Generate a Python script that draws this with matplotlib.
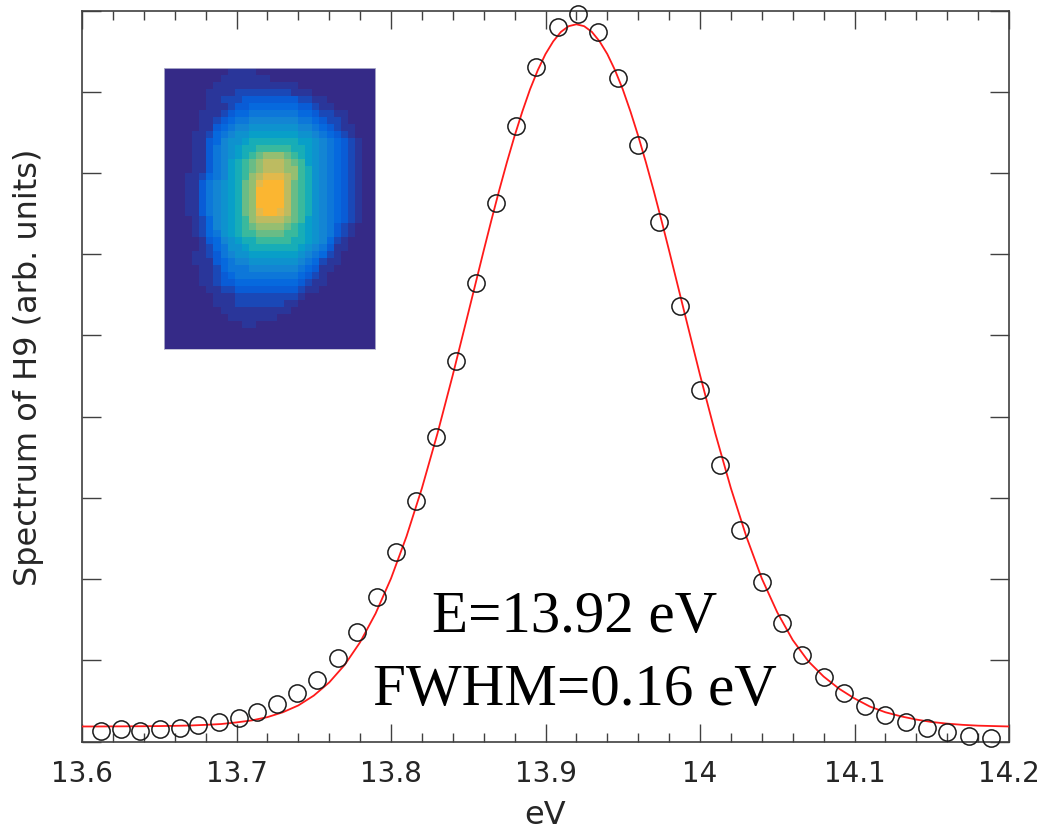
# -*- coding: utf-8 -*-
import numpy as np
import matplotlib
matplotlib.use('Agg')
import matplotlib.pyplot as plt
from matplotlib.colors import LinearSegmentedColormap

# measured spectrum
energy = [13.6123, 13.6252, 13.6375, 13.6505, 13.6634, 13.6751, 13.6887, 13.7016, 13.7133,
          13.7262, 13.7392, 13.7521, 13.7657, 13.7780, 13.7909, 13.8032, 13.8162, 13.8291,
          13.8421, 13.8550, 13.8680, 13.8809, 13.8939, 13.9081, 13.9210, 13.9340, 13.9469,
          13.9599, 13.9735, 13.9871, 14.0000, 14.0129, 14.0259, 14.0401, 14.0531, 14.0660,
          14.0803, 14.0932, 14.1068, 14.1197, 14.1333, 14.1469, 14.1599, 14.1741, 14.1884]
signal = [0.135, 0.148, 0.135, 0.160, 0.172, 0.197, 0.246, 0.295, 0.369,
          0.456, 0.591, 0.763, 1.034, 1.354, 1.773, 2.327, 2.967, 3.755,
          4.679, 5.639, 6.636, 7.584, 8.310, 8.803, 8.951, 8.741, 8.163,
          7.350, 6.390, 5.356, 4.322, 3.410, 2.610, 1.958, 1.453, 1.071,
          0.788, 0.591, 0.443, 0.332, 0.234, 0.172, 0.123, 0.062, 0.037]

# fitted curve, closer together around the peak
fit_energy = [13.60, 13.61, 13.62, 13.63, 13.64, 13.65, 13.66, 13.67, 13.68, 13.69, 13.70,
              13.71, 13.72, 13.73, 13.74, 13.75, 13.76, 13.77, 13.78, 13.79, 13.80,
              13.81, 13.82, 13.83, 13.84, 13.85, 13.86, 13.865, 13.87, 13.875, 13.88, 13.885,
              13.89, 13.895, 13.90, 13.905, 13.91, 13.915, 13.92, 13.925, 13.93, 13.935,
              13.94, 13.945, 13.95, 13.955, 13.96, 13.965, 13.97, 13.975, 13.98, 13.99, 14.00,
              14.01, 14.02, 14.03, 14.04, 14.05, 14.06, 14.07, 14.08, 14.09, 14.10,
              14.11, 14.12, 14.13, 14.14, 14.15, 14.16, 14.17, 14.18, 14.19, 14.20]
fit_signal = [0.185, 0.185, 0.186, 0.187, 0.188, 0.190, 0.193, 0.197, 0.205, 0.215, 0.235,
              0.260, 0.300, 0.360, 0.444, 0.565, 0.727, 0.943, 1.222, 1.575, 2.007,
              2.523, 3.118, 3.787, 4.513, 5.276, 6.044, 6.420, 6.784, 7.130, 7.456, 7.756,
              8.030, 8.265, 8.464, 8.620, 8.737, 8.807, 8.830, 8.807, 8.737, 8.620,
              8.464, 8.265, 8.030, 7.756, 7.456, 7.130, 6.784, 6.420, 6.044, 5.276, 4.513,
              3.787, 3.118, 2.523, 2.007, 1.590, 1.250, 0.990, 0.800, 0.650, 0.530,
              0.430, 0.360, 0.310, 0.270, 0.240, 0.220, 0.205, 0.195, 0.190, 0.185]

xticks = [13.6, 13.7, 13.8, 13.9, 14.0, 14.1, 14.2]
xticklabels = ['13.6', '13.7', '13.8', '13.9', '14', '14.1', '14.2']

# inset beam image, one hex level per pixel
beam_rows = [
    '000000000111100000000000000000',
    '000000001111111000000000000000',
    '000000011111111111100000000000',
    '000000111122222222111000000000',
    '000000112223333333322110000000',
    '000000111233444444433211000000',
    '000001112344555555544322110000',
    '000001123455666666655432210000',
    '000001134566777777766543211000',
    '000011245677888888877654321000',
    '000011346778999999988765432100',
    '0000113567899aaaaa998765432100',
    '000011356789abcccba98765432100',
    '00001135689abcdddcba8765432100',
    '00001135689abcdddcca9765432100',
    '00011245689acdeeedca9765432100',
    '00011356789bcefffdba9765432100',
    '00011356789bcffffdba9765432100',
    '00011356789bcffffdba9765432100',
    '00011356789bcffffdba9765432100',
    '00011356789bceffedba9765432100',
    '00001246789acddddcba8765432100',
    '00001246789abccccba98765321000',
    '00001245789aabbbbaa98765321000',
    '0000013467899aaaaa998764210000',
    '000001245778999999987653110000',
    '000011235677888888876542100000',
    '000011134566777777765421100000',
    '000001124555666666654311000000',
    '000001123455555555543210000000',
    '000001123344444444432110000000',
    '000000112233333333321100000000',
    '000000011122222222210000000000',
    '000000011122222221100000000000',
    '000000001111111111000000000000',
    '000000000111111100000000000000',
    '000000000001100000000000000000',
    '000000000000000000000000000000',
    '000000000000000000000000000000',
    '000000000000000000000000000000',
]
level_values = [0, 0.03, 0.07, 0.11, 0.15, 0.20, 0.25, 0.30,
                0.35, 0.42, 0.50, 0.57, 0.63, 0.70, 0.78, 0.86]

parula_colors = ['#352a87', '#0363e1', '#1485d4', '#06a7c6', '#38b99e',
                 '#92bf73', '#d9ba56', '#ffb62e', '#f9fb0e']
parula = LinearSegmentedColormap.from_list('parula', parula_colors)

beam = np.array([[level_values[int(c, 16)] for c in row] for row in beam_rows])

W, H = 1046.0, 829.0
fig = plt.figure(figsize=(10.46, 8.29), dpi=100)
ax = fig.add_axes([82 / W, (H - 742.5) / H, 927 / W, 731 / H])

ax.plot(fit_energy, fit_signal, color='#ff1a1a', lw=1.3, zorder=3)
ax.plot(energy, signal, 'o', mfc='none', mec='#1a1a1a', ms=12.4, mew=1.1,
        clip_on=False, zorder=4)

ax.set_xlim(13.6, 14.2)
ax.set_ylim(0, 9)
ax.set_xticks(xticks)
ax.set_xticklabels(xticklabels)
ax.set_xticks(np.arange(13.62, 14.2, 0.02), minor=True)
ax.set_yticks(range(0, 10))
ax.set_yticklabels([])

gray = '#404040'
ax.tick_params(axis='x', which='major', direction='in', top=True, length=13, width=1,
               color=gray, labelcolor='#262626', labelsize=20, pad=12.5)
ax.tick_params(axis='x', which='minor', direction='in', top=True, length=6.5, width=1,
               color=gray)
ax.tick_params(axis='y', which='major', direction='in', right=True, length=13.5, width=1,
               color=gray)
for spine in ax.spines.values():
    spine.set_color(gray)
    spine.set_linewidth(1.2)

ax.set_xlabel('eV', fontsize=23, color='#262626', labelpad=8.5)
ax.set_ylabel('Spectrum of H9 (arb. units)', fontsize=23, color='#262626', labelpad=24, y=0.513)

serif = ['Liberation Serif', 'DejaVu Serif']
fig.text(575 / W, (H - 632) / H, 'E=13.92 eV', family=serif, fontsize=42.5,
         ha='center', va='baseline', color='black')
fig.text(575 / W, (H - 705) / H, 'FWHM=0.16 eV', family=serif, fontsize=42.5,
         ha='center', va='baseline', color='black')

inset = fig.add_axes([164 / W, (H - 350) / H, 211 / W, 281 / H])
inset.imshow(beam, cmap=parula, vmin=0, vmax=1, aspect='auto', interpolation='nearest')
inset.set_xticks([])
inset.set_yticks([])
for spine in inset.spines.values():
    spine.set_color('#b8b8d0')
    spine.set_linewidth(0.6)

fig.savefig('out.png', dpi=100)
